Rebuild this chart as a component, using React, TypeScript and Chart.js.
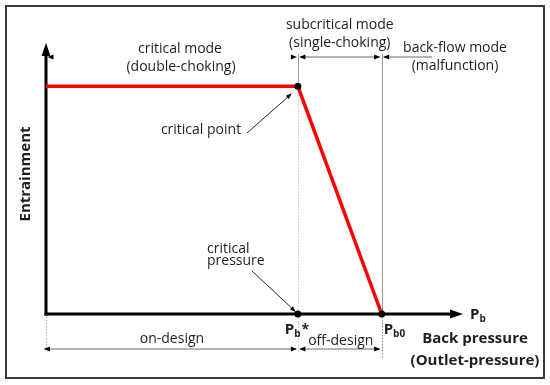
import React, { useEffect, useRef } from "react";
import { Chart, registerables } from "chart.js";

Chart.register(...registerables);

// ---- data (schematic, in arbitrary units) ----
const backPressure = [0, 60.4, 80.5]; // origin, Pb*, Pb0
const entrainment = [84, 84, 0]; // constant up to Pb*, then drops to 0 at Pb0
const xMax = 100;
const yMax = 100;
const modeLabels = [
  ["critical mode", "(double-choking)"],
  ["subcritical mode", "(single-choking)"],
  ["back-flow mode", "(malfunction)"],
];
const designLabels = ["on-design", "off-design"];
const yTitle = "Entrainment";
const xTitle = ["Back pressure", "(Outlet-pressure)"];
const pointLabels = ["critical point", "critical", "pressure"];

const FONT = "'Open Sans', 'Noto Sans', sans-serif";

function arrowHead(ctx: CanvasRenderingContext2D, x: number, y: number, dir: number, len = 6, half = 2.5) {
  ctx.save();
  ctx.translate(x, y);
  ctx.rotate(dir);
  ctx.beginPath();
  ctx.moveTo(0, 0);
  ctx.lineTo(-len, -half);
  ctx.lineTo(-len, half);
  ctx.closePath();
  ctx.fill();
  ctx.restore();
}

function line(ctx: CanvasRenderingContext2D, x1: number, y1: number, x2: number, y2: number) {
  ctx.beginPath();
  ctx.moveTo(x1, y1);
  ctx.lineTo(x2, y2);
  ctx.stroke();
}

const schematicPlugin = {
  id: "schematic",
  beforeDatasetsDraw(chart: any) {
    const ctx: CanvasRenderingContext2D = chart.ctx;
    const xs = chart.scales.x;
    const ys = chart.scales.y;
    const x0 = xs.getPixelForValue(0);
    const xc = xs.getPixelForValue(backPressure[1]);
    const xb = xs.getPixelForValue(backPressure[2]);
    const xEnd = xs.getPixelForValue(xMax);
    const y0 = ys.getPixelForValue(0);
    const yTop = ys.getPixelForValue(yMax);
    const yc = ys.getPixelForValue(entrainment[1]);
    ctx.save();
    // frame
    ctx.strokeStyle = "#3a3a3a";
    ctx.lineWidth = 2;
    ctx.strokeRect(6, 6, 538, 372);

    // guide lines
    ctx.strokeStyle = "#9a9a9a";
    ctx.lineWidth = 1;
    line(ctx, Math.round(xc) + 0.5, 54, Math.round(xc) + 0.5, yc);
    line(ctx, Math.round(xb) + 0.5, 54, Math.round(xb) + 0.5, y0);
    ctx.setLineDash([1.5, 1.5]);
    ctx.strokeStyle = "#c8c8c8";
    line(ctx, Math.round(xc) + 0.5, yc, Math.round(xc) + 0.5, 352);
    ctx.strokeStyle = "#8a8a8a";
    line(ctx, Math.round(xb) + 0.5, y0, Math.round(xb) + 0.5, 358);
    ctx.strokeStyle = "#b0b0b0";
    line(ctx, Math.round(x0) + 0.5, y0, Math.round(x0) + 0.5, 350);
    ctx.setLineDash([]);

    // axes
    ctx.strokeStyle = "#000";
    ctx.fillStyle = "#000";
    ctx.lineWidth = 3;
    line(ctx, x0, y0 + 1.5, x0, yTop + 8);
    line(ctx, x0 - 1.5, y0, xEnd - 8, y0);
    arrowHead(ctx, x0, yTop, -Math.PI / 2, 13, 4.5);
    arrowHead(ctx, xEnd, y0, 0, 13, 4.5);

    // mode arrows (top)
    const ya = 57;
    ctx.lineWidth = 1;
    ctx.strokeStyle = "#6a6a6a";
    ctx.fillStyle = "#000";
    arrowHead(ctx, x0 + 1.5, ya, Math.PI);
    arrowHead(ctx, xc - 1, ya, 0);
    line(ctx, xc + 2, ya, xb - 2, ya);
    arrowHead(ctx, xc + 1.5, ya, Math.PI);
    arrowHead(ctx, xb - 1.5, ya, 0);
    line(ctx, xb + 2, ya, 432, ya);
    arrowHead(ctx, xb + 1.5, ya, Math.PI);

    // design arrows (bottom)
    const yd = 349;
    line(ctx, x0 - 2, yd, xc - 2, yd);
    arrowHead(ctx, x0 - 2, yd, Math.PI);
    arrowHead(ctx, xc - 1, yd, 0);
    line(ctx, xc + 2, yd, xb - 2, yd);
    arrowHead(ctx, xc + 1.5, yd, Math.PI);
    arrowHead(ctx, xb - 1.5, yd, 0);

    // leader lines
    ctx.strokeStyle = "#222";
    line(ctx, 247, 133, xc - 7, yc + 8);
    arrowHead(ctx, xc - 6, yc + 7, Math.atan2((yc + 8) - 133, (xc - 7) - 247), 6, 2.2);
    line(ctx, 252, 271, xc - 3, y0 - 3);
    arrowHead(ctx, xc - 2, y0 - 2, Math.atan2((y0 - 3) - 271, (xc - 3) - 252), 6, 2.2);
    ctx.restore();
  },
  afterDatasetsDraw(chart: any) {
    const ctx: CanvasRenderingContext2D = chart.ctx;
    const xs = chart.scales.x;
    const ys = chart.scales.y;
    const x0 = xs.getPixelForValue(0);
    const xc = xs.getPixelForValue(backPressure[1]);
    const xb = xs.getPixelForValue(backPressure[2]);
    const xEnd = xs.getPixelForValue(xMax);
    const y0 = ys.getPixelForValue(0);
    ctx.save();
    ctx.fillStyle = "#1e1e1e";
    ctx.textBaseline = "alphabetic";
    ctx.textAlign = "center";
    ctx.font = `14px ${FONT}`;
    // modes
    ctx.fillText(modeLabels[0][0], 180, 53);
    ctx.fillText(modeLabels[0][1], 181, 71);
    ctx.fillText(modeLabels[1][0], (xc + xb) / 2, 29);
    ctx.fillText(modeLabels[1][1], (xc + xb) / 2, 47);
    ctx.fillText(modeLabels[2][0], 455, 52);
    ctx.fillText(modeLabels[2][1], 455, 70);
    // point labels
    ctx.fillText(pointLabels[0], 201, 134);
    ctx.textAlign = "left";
    ctx.fillText(pointLabels[1], 207, 253);
    ctx.fillText(pointLabels[2], 207, 265);
    // design
    ctx.textAlign = "center";
    ctx.fillText(designLabels[0], (x0 + xc) / 2, 343);
    ctx.fillText(designLabels[1], (xc + xb) / 2 + 1, 345);

    // bold titles
    ctx.font = `bold 15px ${FONT}`;
    ctx.fillText(xTitle[0], 475, 343);
    ctx.fillText(xTitle[1], 475, 365);
    ctx.save();
    ctx.translate(30, 174);
    ctx.rotate(-Math.PI / 2);
    ctx.fillText(yTitle, 0, 0);
    ctx.restore();

    // P symbols
    const sub = (x: number, y: number, s: string, sup?: string) => {
      ctx.textAlign = "left";
      ctx.font = `bold 15px ${FONT}`;
      ctx.fillText("P", x, y);
      const w = ctx.measureText("P").width;
      ctx.font = `bold 10px ${FONT}`;
      ctx.fillText(s, x + w, y + 3);
      const w2 = ctx.measureText(s).width;
      if (sup) {
        ctx.font = `bold 14px ${FONT}`;
        ctx.fillText(sup, x + w + w2 + 1, y);
      }
    };
    sub(xEnd + 7, y0 + 5, "b");
    sub(xc - 13, y0 + 20, "b", "*");
    sub(xb + 2, y0 + 20, "b0");
    ctx.restore();
  },
};

export default function App() {
  const ref = useRef<HTMLCanvasElement>(null);
  useEffect(() => {
    document.body.style.margin = "0";
    const canvas = ref.current!;
    const chart = new Chart(canvas, {
      type: "scatter",
      data: {
        datasets: [
          {
            label: "points",
            data: [
              { x: backPressure[1], y: entrainment[1] },
              { x: backPressure[1], y: 0 },
              { x: backPressure[2], y: 0 },
            ],
            showLine: false,
            pointRadius: 3.5,
            pointBackgroundColor: "#000",
            pointBorderWidth: 0,
            clip: false,
            order: 0,
          } as any,
          {
            label: "entrainment",
            data: backPressure.map((x, i) => ({ x, y: entrainment[i] })),
            showLine: true,
            borderColor: "#ff0000",
            borderWidth: 3.5,
            pointRadius: 0,
            clip: false,
            order: 1,
          } as any,
        ],
      },
      options: {
        animation: false,
        responsive: false,
        maintainAspectRatio: false,
        layout: { padding: { left: 46, right: 87, top: 43, bottom: 71 } },
        plugins: { legend: { display: false }, tooltip: { enabled: false } },
        scales: {
          x: { type: "linear", min: 0, max: xMax, display: false },
          y: { type: "linear", min: 0, max: yMax, display: false },
        },
      },
      plugins: [schematicPlugin],
    });
    return () => chart.destroy();
  }, []);
  return (
    <div style={{ width: 550, height: 385, background: "#fff" }}>
      <canvas ref={ref} width={550} height={385} style={{ display: "block" }} />
    </div>
  );
}
